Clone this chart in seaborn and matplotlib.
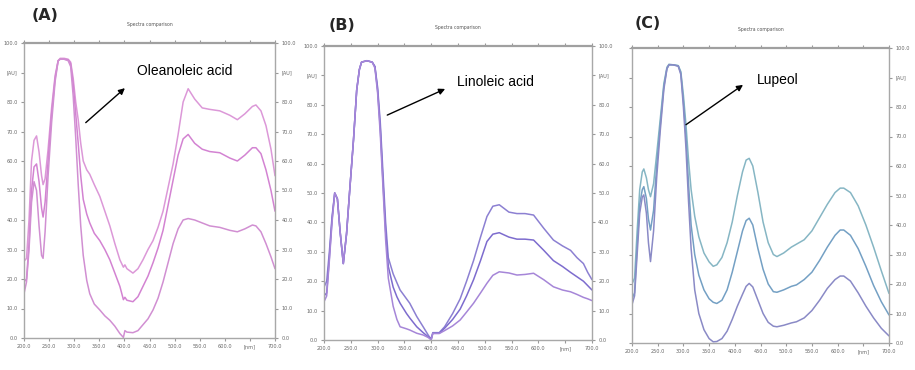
import matplotlib
matplotlib.use("Agg")
import matplotlib.pyplot as plt
import seaborn as sns
import pandas as pd

# ---------------- data ----------------
wl_a = [200, 205, 210, 215, 220, 225, 230, 235, 238, 242, 248, 255, 262, 268, 272, 280, 288, 293, 298, 303,
        308, 313, 318, 325, 331, 340, 351, 361, 371, 381, 391, 398, 401, 405, 417, 427, 437, 447, 457, 467,
        477, 487, 497, 507, 517, 527, 540, 555, 570, 590, 610, 625, 640, 655, 662, 672, 682, 692, 700]
a_upper = [26, 27, 40, 60, 67, 68.5, 63, 55, 52, 54, 64, 78, 89, 94, 94.8, 94.8, 94.5, 93.5, 88, 80,
           74, 66, 60, 57, 55.5, 52, 48, 43, 38, 32, 26.5, 24, 24.8, 23.5, 22, 23.5, 26.5, 30, 33, 37.5,
           43, 51, 59, 69, 80, 84.5, 81, 78, 77.5, 77, 75.5, 74, 76, 78.5, 79, 77, 72, 64, 55]
a_middle = [19, 20, 32, 50, 58, 59, 53, 44, 41, 46, 60, 76, 88, 94, 94.5, 94.5, 94.3, 93, 86, 76,
            66, 55, 47, 42, 39, 35.5, 33, 30, 26.5, 22, 17.5, 13, 13.8, 12.8, 12.3, 14, 17.5, 21, 25.5, 30.5,
            36.5, 45, 53.5, 62, 67.5, 69, 66, 64, 63.2, 62.8, 61, 60, 62, 64.5, 64.5, 62.5, 57, 50, 43]
a_lower = [15, 19, 30, 46, 53, 50, 38, 28, 27, 36, 55, 73, 87, 94, 94.5, 94.5, 94, 92, 82, 68,
           52, 38, 28, 19.5, 15, 11.5, 9.5, 7.5, 6, 4, 1.5, 0.2, 2.5, 2, 1.8, 2.5, 4.5, 6.5, 9.5, 13.5,
           19, 25.5, 32, 37, 40, 40.5, 40, 39, 38, 37.5, 36.5, 36, 37, 38.3, 38, 36, 32, 27.5, 23.5]

wl_b = [200, 205, 210, 215, 220, 225, 230, 236, 242, 248, 255, 261, 266, 270, 280, 290, 295, 300, 305, 310,
        315, 320, 329, 336, 342, 354, 360, 373, 385, 395, 400, 403, 415, 425, 440, 454, 466, 479, 492, 504,
        515, 527, 545, 560, 575, 591, 610, 628, 645, 660, 672, 684, 692, 700]
b_upper = [18, 20, 30, 42, 50, 48, 37, 26, 36, 51, 68, 85, 92, 94.5, 95, 94.5, 93, 86, 74, 57,
           40, 28, 22.5, 19.5, 17, 14, 12.5, 8, 4.5, 1.5, 0.3, 2.5, 2.5, 4.5, 9, 14, 20, 27, 35, 42,
           45.5, 46, 43.5, 43, 43, 42.5, 38, 34, 32, 30.5, 28, 26, 23, 20.5]
b_middle = [15, 16, 28, 41, 50, 48, 37, 26, 36, 51, 68, 85, 92, 94.5, 95, 94.5, 93, 85, 72, 54,
            37, 25, 18, 14.7, 12.5, 9, 7.5, 4.5, 2.5, 1, 0.3, 2.3, 2.3, 4, 7, 10.5, 15, 20.5, 27, 33.5,
            36, 36.5, 35, 34.3, 34.3, 34, 30.5, 27, 25, 23, 21.5, 20, 18.5, 17]
b_lower = [13, 15, 27, 40, 50, 48, 37, 26, 36, 51, 68, 85, 92, 94.5, 95, 94.5, 92.5, 84, 70, 52,
           34, 21, 11.5, 7, 4.5, 3.8, 3.4, 2.3, 1.7, 0.8, 0, 2.2, 2.2, 3.2, 4.8, 6.8, 9.5, 12.5, 16, 19.3,
           22, 23.2, 22.8, 22.1, 22.3, 22.7, 20.5, 18.1, 17, 16.4, 15.5, 14.5, 14, 13.4]

wl_c = [200, 205, 210, 215, 220, 223, 228, 232, 236, 242, 248, 255, 262, 268, 272, 280, 290, 295, 300, 305,
        310, 315, 322, 330, 340, 350, 358, 365, 375, 385, 395, 405, 415, 422, 428, 435, 445, 455, 465, 475,
        482, 495, 510, 520, 535, 550, 565, 580, 595, 605, 612, 625, 640, 655, 670, 685, 700]
c_upper = [20, 22, 38, 52, 58, 59, 56, 52, 49.6, 54, 64, 76, 88, 93.5, 94.5, 94.3, 94, 92, 84, 74,
           62, 52, 43, 36, 30.5, 27.5, 26, 26.5, 29, 34, 41, 50, 58, 62, 62.6, 60, 51, 41, 34, 30,
           29.3, 30.5, 32.5, 33.5, 35, 38, 42.5, 47, 51, 52.5, 52.5, 51, 46.5, 40, 32.5, 24.5, 16.8]
c_middle = [15, 17, 33, 47, 52, 53, 49, 42, 38.3, 45, 60, 74, 87, 93, 94.3, 94.3, 94, 91.5, 82, 70,
            54, 40, 30, 23, 18, 15, 13.8, 13.4, 14.5, 18, 24, 31, 38, 41.5, 42.3, 40, 32, 25, 20, 17.4,
            17.2, 18, 19.2, 19.7, 21.5, 24, 28, 32.5, 36.5, 38.3, 38.3, 36.5, 32, 26, 19.5, 14, 9.5]
c_lower = [13, 16, 30, 44, 49.5, 50.2, 44, 34, 27.6, 38, 56, 72, 86, 93, 94.3, 94.3, 93.8, 91, 80, 66,
           48, 32, 18, 10, 4.5, 1.5, 0.4, 0.5, 1.5, 4, 8, 12.5, 16.5, 19.2, 20.2, 19, 14.5, 10, 7, 5.7,
           5.5, 6, 6.8, 7.2, 8.5, 11, 14.5, 18.5, 21.5, 22.7, 22.7, 21, 17, 12.5, 8.5, 5, 2.4]

x_ticks = [200, 250, 300, 350, 400, 450, 500, 550, 600, 650, 700]
y_ticks = [0, 10, 20, 30, 40, 50, 60, 70, 80, 90, 100]
x_tick_labels = ["200.0", "250.0", "300.0", "350.0", "400.0", "450.0", "500.0", "550.0", "600.0", "[nm]", "700.0"]
y_tick_labels = ["0.0", "10.0", "20.0", "30.0", "40.0", "50.0", "60.0", "70.0", "80.0", "[AU]", "100.0"]

panel_letters = ["(A)", "(B)", "(C)"]
compound_names = ["Oleanoleic acid", "Linoleic acid", "Lupeol"]
subtitle = "Spectra comparison"

# ---------------- plotting ----------------
sns.set_style("white")
plt.rcParams["font.family"] = ["DejaVu Sans"]

fig = plt.figure(figsize=(9.15, 3.70), dpi=100)

W, H = 915.0, 370.0
boxes = [(24, 43, 275, 338), (324, 46, 592, 340), (632, 48, 889, 343)]
panels = [
    (wl_a, [a_upper, a_middle, a_lower], ["#dc98d8", "#d383d2", "#d18fd2"]),
    (wl_b, [b_upper, b_middle, b_lower], ["#8c80d2", "#7d6cce", "#a686d8"]),
    (wl_c, [c_upper, c_middle, c_lower], ["#86b6c4", "#74a0c4", "#8a8ac6"]),
]
arrows = [((323, 73), (401, 84.7), (425, 90.4)),
          ((318, 76.5), (426, 85.4), (448, 87.8)),
          ((305, 74), (416, 87.5), (443, 89.2))]
letter_pos = [(45, 16), (342, 25), (648, 23)]

for i, (box, (wl, series, cols)) in enumerate(zip(boxes, panels)):
    l, t, r, b = box
    ax = fig.add_axes([l / W, 1 - b / H, (r - l) / W, (b - t) / H])
    for name, (vals, col) in zip(["upper", "middle", "lower"], zip(series, cols)):
        df = pd.DataFrame({"wl": wl, "au": vals})
        sns.lineplot(data=df, x="wl", y="au", ax=ax, color=col, lw=1.1,
                     sort=False, estimator=None)
    ax.set_xlim(200, 700)
    ax.set_ylim(0, 100)
    ax.set_xlabel("")
    ax.set_ylabel("")
    ax.set_xticks(x_ticks)
    ax.set_xticklabels(x_tick_labels)
    ax.set_yticks(y_ticks)
    ax.set_yticklabels(y_tick_labels)
    for s in ["left", "right", "bottom"]:
        ax.spines[s].set_color("#a8a8a8")
        ax.spines[s].set_linewidth(1.0)
    ax.spines["top"].set_color("#a0a0a0")
    ax.spines["top"].set_linewidth(1.6)
    ax.tick_params(axis="both", which="both", labelsize=3.6, labelcolor="#666666",
                   color="#999999", length=2.5, width=0.8, direction="out", pad=2)
    ax.tick_params(axis="x", top=True, bottom=True, labeltop=False)
    ax.tick_params(axis="y", left=True, right=True, labelright=True, labelleft=(i != 2))
    ax.text(0.5, 1.062, subtitle, transform=ax.transAxes, fontsize=3.3,
            color="#555555", ha="center", va="center")
    (tx, ty), (hx, hy), (lx, ly) = arrows[i]
    ax.annotate("", xy=(hx, hy), xytext=(tx, ty),
                arrowprops=dict(arrowstyle="-|>", color="black", lw=1.0,
                                mutation_scale=9, shrinkA=0, shrinkB=0))
    ax.text(lx, ly, compound_names[i], fontsize=10, color="black",
            ha="left", va="center", family="Liberation Sans")
    px, py = letter_pos[i]
    fig.text(px / W, 1 - py / H, panel_letters[i], fontsize=11.5, fontweight="bold",
             ha="center", va="center")

fig.savefig("out.png", dpi=100)
